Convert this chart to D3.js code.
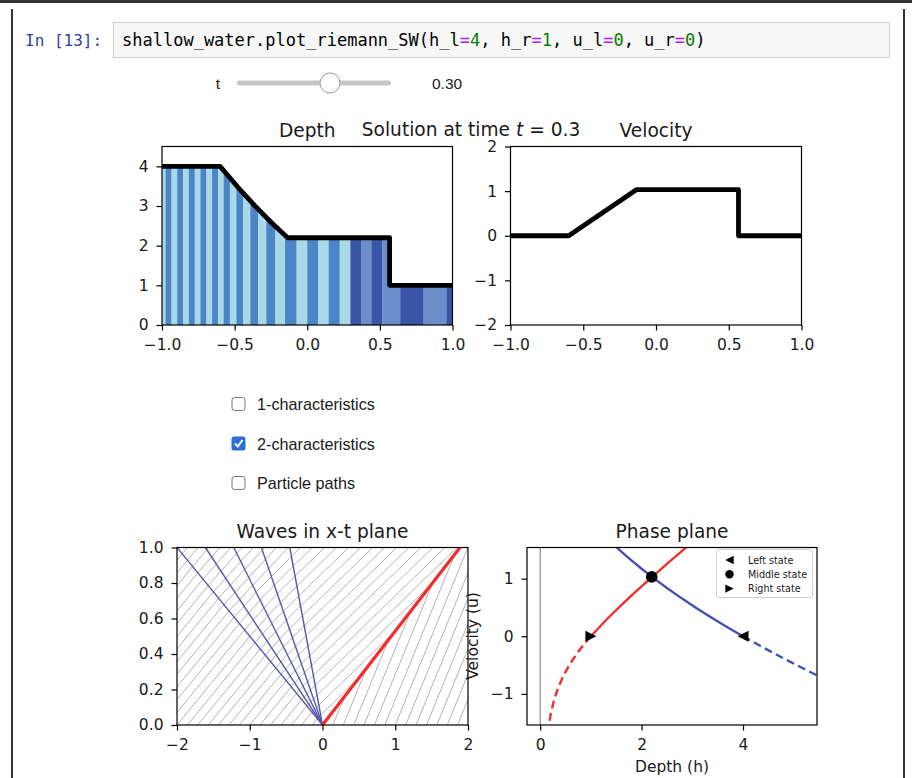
<!DOCTYPE html>
<html><head><meta charset="utf-8">
<script src="https://cdn.jsdelivr.net/npm/d3@7"></script>
<style>body{margin:0;background:#fff}svg{display:block}</style>
</head><body><svg id="c" width="912" height="778"></svg>
<script>
// ---------------- DATA ----------------
const codePrompt = "In [13]:";
const codeParts = [["shallow_water.plot_riemann_SW(h_l","t"],["=","o"],["4","n"],[", h_r","t"],["=","o"],["1","n"],[", u_l","t"],["=","o"],["0","n"],[", u_r","t"],["=","o"],["0","n"],[")","t"]];
const sliderLabel = "t";
const sliderValue = 0.30;
const checkboxLabels = ["1-characteristics", "2-characteristics", "Particle paths"];
const checkboxChecked = [false, true, false];

const solutionTime = 0.3;
const depthX = [-1, -0.6, -0.48, -0.36, -0.24, -0.135, 0.567, 0.567, 1];
const depthH = [4, 4, 3.484, 3.004, 2.56, 2.2, 2.2, 1, 1];
const velX = [-1, -0.6, -0.135, 0.567, 0.567, 1];
const velU = [0, 0, 1.033, 1.033, 0, 0];
const stripeEdges = [-1, -0.975, -0.935, -0.895, -0.855, -0.815, -0.775, -0.735, -0.695, -0.655, -0.615,
  -0.575, -0.533, -0.488, -0.441, -0.392, -0.339, -0.282, -0.220, -0.153, -0.074, 0.0, 0.075, 0.148, 0.223,
  0.297, 0.37, 0.443, 0.516, 0.64, 0.80, 0.96, 1.0];
const stripeGroup = ["La","Lb","La","Lb","La","Lb","La","Lb","La","Lb","La","Lb","La","Lb","La","Lb","La","Lb","La","Lb","La","Lb","La","Lb","La",
  "Ra","Rb","Ra","Rb","Ra","Rb","Ra"];
const depthXTicks = [-1, -0.5, 0, 0.5, 1];
const depthYTicks = [0, 1, 2, 3, 4];
const velYTicks = [-2, -1, 0, 1, 2];

const fanTopX = [-2, -1.61, -1.22, -0.84, -0.45];
const shockTopX = 1.89;
const charLines = [
  [[-0.1429,0],[-0.0714,0.0357],[-0.0252,0.0559],[0.504,0.2667]],
  [[-0.2857,0],[-0.1429,0.0714],[-0.0503,0.1118],[1.008,0.5333]],
  [[-0.4286,0],[-0.2143,0.1071],[-0.0755,0.1677],[1.512,0.8]],
  [[-0.5714,0],[-0.2857,0.1429],[-0.1993,0.1829],[-0.1006,0.2236],[1.848,1]],
  [[-0.7143,0],[-0.3571,0.1786],[-0.2491,0.2286],[-0.1258,0.2795],[1.683,1]],
  [[-0.8571,0],[-0.4286,0.2143],[-0.2989,0.2743],[-0.1509,0.3354],[1.517,1]],
  [[-1.0,0],[-0.5,0.25],[-0.3488,0.32],[-0.1761,0.3913],[1.352,1]],
  [[-1.1429,0],[-0.5714,0.2857],[-0.3986,0.3657],[-0.2012,0.4471],[1.187,1]],
  [[-1.2857,0],[-0.6429,0.3214],[-0.4484,0.4114],[-0.2264,0.503],[1.021,1]],
  [[-1.4286,0],[-0.7143,0.3571],[-0.4982,0.4571],[-0.2515,0.5589],[0.856,1]],
  [[-1.5714,0],[-0.7857,0.3929],[-0.5481,0.5029],[-0.2767,0.6148],[0.69,1]],
  [[-1.7143,0],[-0.8571,0.4286],[-0.5979,0.5486],[-0.3018,0.6707],[0.525,1]],
  [[-1.8571,0],[-0.9286,0.4643],[-0.6477,0.5943],[-0.327,0.7266],[0.359,1]],
  [[-2.0,0],[-1.0,0.5],[-0.6975,0.64],[-0.3521,0.7825],[0.194,1]],
  [[-2.1429,0],[-1.0714,0.5357],[-0.7473,0.6857],[-0.3773,0.8384],[0.028,1]],
  [[-2.2857,0],[-1.1429,0.5714],[-0.7971,0.7314],[-0.4024,0.8943],[-0.137,1]],
  [[-2.4286,0],[-1.2143,0.6071],[-0.8469,0.7771],[-0.4276,0.9501],[-0.302,1]],
  [[-2.5714,0],[-1.2857,0.6429],[-0.47,1]],
  [[-2.7143,0],[-1.3571,0.6786],[-0.633,1]],
  [[-2.8571,0],[-1.4286,0.7143],[-0.795,1]],
  [[-3.0,0],[-1.5,0.75],[-0.953,1]],
  [[-3.1429,0],[-1.5714,0.7857],[-1.109,1]],
  [[-3.2857,0],[-1.6429,0.8214],[-1.263,1]],
  [[-3.4286,0],[-1.7143,0.8571],[-1.414,1]],
  [[-3.5714,0],[-1.7857,0.8929],[-1.564,1]],
  [[-3.7143,0],[-1.8571,0.9286],[-1.711,1]],
  [[-3.8571,0],[-1.9286,0.9643],[-1.857,1]],
  [[-4.0,0],[-2.0,1.0]],
  [[0.1429,0],[0.3034,0.1605]],
  [[0.2857,0],[0.6068,0.321]],
  [[0.4286,0],[0.910,0.4816]],
  [[0.5714,0],[1.2135,0.642]],
  [[0.7143,0],[1.517,0.8026]],
  [[0.8571,0],[1.820,0.963]],
  [[1.0,0],[2.0,1.0]],
  [[1.1429,0],[2.1429,1]],
  [[1.2857,0],[2.2857,1]],
  [[1.4286,0],[2.4286,1]],
  [[1.5714,0],[2.5714,1]],
  [[1.7143,0],[2.7143,1]],
  [[1.8571,0],[2.8571,1]]
];
const wavesXTicks = [-2, -1, 0, 1, 2];
const wavesYTicks = [0, 0.2, 0.4, 0.6, 0.8, 1.0];

const blueSolidH = [1.45, 1.6, 1.8, 2.0, 2.2, 2.5, 2.8, 3.1, 3.4, 3.7, 4.0];
const blueSolidU = [1.592, 1.470, 1.317, 1.172, 1.034, 0.838, 0.653, 0.479, 0.312, 0.153, 0];
const blueDashH = [4.0, 4.4, 4.8, 5.2, 5.6];
const blueDashU = [0, -0.195, -0.383, -0.564, -0.741];
const redSolidH = [1.0, 1.3, 1.6, 1.9, 2.2, 2.5, 2.8, 3.0];
const redSolidU = [0, 0.282, 0.541, 0.786, 1.023, 1.255, 1.483, 1.633];
const redDashH = [1.0, 0.9, 0.75, 0.6, 0.45, 0.35, 0.27, 0.21, 0.16];
const redDashU = [0, -0.103, -0.270, -0.462, -0.698, -0.903, -1.120, -1.341, -1.599];
const stateNames = ["Left state", "Middle state", "Right state"];
const stateH = [4, 2.2, 1];
const stateU = [0, 1.03, 0];
const phaseXTicks = [0, 2, 4];
const phaseYTicks = [-1, 0, 1];

// ---------------- STYLE ----------------
const MPL = "'DejaVu Sans', sans-serif";
const UI = "'Liberation Sans', Arial, sans-serif";
const MONO = "'DejaVu Sans Mono', monospace";
const TICK_FS = 15.5, TITLE_FS = 18.6;
const stripeColor = {La: "#a9d8e7", Lb: "#4a86c5", Ra: "#3b55a6", Rb: "#6a8fcb"};
const codeColor = {t: "#000", o: "#aa22ff", n: "#008000"};

const svg = d3.select("#c");

// frame
svg.append("rect").attr("x", 0).attr("y", 0).attr("width", 912).attr("height", 3).attr("fill", "#333");
svg.append("rect").attr("x", 11).attr("y", 9).attr("width", 2).attr("height", 769).attr("fill", "#333");
svg.append("rect").attr("x", 903).attr("y", 9).attr("width", 2).attr("height", 769).attr("fill", "#333");

// code cell
svg.append("text").attr("x", 25).attr("y", 46).attr("font-family", MONO).attr("font-size", 16)
  .attr("fill", "#303f9f").text(codePrompt);
svg.append("rect").attr("x", 113.5).attr("y", 22.5).attr("width", 776).attr("height", 35)
  .attr("fill", "#f7f7f7").attr("stroke", "#cfcfcf");
const codeT = svg.append("text").attr("x", 122).attr("y", 46).attr("font-family", MONO).attr("font-size", 17)
  .style("white-space", "pre");
codeParts.forEach(p => codeT.append("tspan").attr("fill", codeColor[p[1]]).text(p[0]));

// slider
svg.append("text").attr("x", 218).attr("y", 89).attr("text-anchor", "middle").attr("font-family", UI)
  .attr("font-size", 15.5).attr("fill", "#222").text(sliderLabel);
svg.append("rect").attr("x", 237).attr("y", 80.5).attr("width", 154).attr("height", 5).attr("rx", 2.5)
  .attr("fill", "#c6c6c6");
svg.append("circle").attr("cx", 330).attr("cy", 83).attr("r", 10).attr("fill", "#fff")
  .attr("stroke", "#9a9a9a").attr("stroke-width", 1);
svg.append("text").attr("x", 432).attr("y", 89).attr("font-family", UI).attr("font-size", 15.5)
  .attr("fill", "#222").text(d3.format(".2f")(sliderValue));

// checkboxes
checkboxLabels.forEach((lab, i) => {
  const cy = 404 + i * 39.5;
  if (checkboxChecked[i]) {
    svg.append("rect").attr("x", 231.5).attr("y", cy - 7).attr("width", 14).attr("height", 14).attr("rx", 2.5)
      .attr("fill", "#2c6fd4");
    svg.append("path").attr("d", `M${235},${cy} L${237.8},${cy + 3} L${242.5},${cy - 3.5}`)
      .attr("fill", "none").attr("stroke", "#fff").attr("stroke-width", 2);
  } else {
    svg.append("rect").attr("x", 232).attr("y", cy - 6.5).attr("width", 13).attr("height", 13).attr("rx", 2.5)
      .attr("fill", "#fff").attr("stroke", "#767676").attr("stroke-width", 1);
  }
  svg.append("text").attr("x", 257).attr("y", cy + 6).attr("font-family", UI).attr("font-size", 16.2)
    .attr("fill", "#1a1a1a").text(lab);
});

// ---------------- AXES HELPER ----------------
function makeAxes(id, box, xd, yd) {
  const x = d3.scaleLinear().domain(xd).range([box.l, box.r]);
  const y = d3.scaleLinear().domain(yd).range([box.b, box.t]);
  svg.append("clipPath").attr("id", id).append("rect")
    .attr("x", box.l).attr("y", box.t).attr("width", box.r - box.l).attr("height", box.b - box.t);
  const plot = svg.append("g").attr("clip-path", `url(#${id})`);
  return {x, y, plot, box};
}
function finishAxes(A, xt, yt, xf, yf, title) {
  const gx = svg.append("g").attr("transform", `translate(0,${A.box.b})`)
    .call(d3.axisBottom(A.x).tickValues(xt).tickFormat(xf).tickSize(5.5).tickPadding(8.5));
  const gy = svg.append("g").attr("transform", `translate(${A.box.l},0)`)
    .call(d3.axisLeft(A.y).tickValues(yt).tickFormat(yf).tickSize(5.5).tickPadding(8));
  [gx, gy].forEach(g => {
    g.select(".domain").remove();
    g.selectAll("line").attr("stroke", "#000").attr("stroke-width", 1.2);
    g.selectAll("text").attr("font-family", MPL).attr("font-size", TICK_FS).attr("fill", "#1a1a1a");
  });
  svg.append("rect").attr("x", A.box.l).attr("y", A.box.t).attr("width", A.box.r - A.box.l)
    .attr("height", A.box.b - A.box.t).attr("fill", "none").attr("stroke", "#000").attr("stroke-width", 1.2);
  if (title) svg.append("text").attr("x", (A.box.l + A.box.r) / 2).attr("y", A.box.t - 10)
    .attr("text-anchor", "middle").attr("font-family", MPL).attr("font-size", TITLE_FS).attr("fill", "#1a1a1a").text(title);
}

// ---------------- DEPTH ----------------
const D = makeAxes("clipD", {l: 162, r: 452.5, t: 146.5, b: 325}, [-1, 1], [0, 4.5]);
const depthPts = depthX.map((v, i) => [v, depthH[i]]);
const areaPath = d3.area().x(d => D.x(d[0])).y0(D.y(0)).y1(d => D.y(d[1]))(depthPts);
svg.append("clipPath").attr("id", "clipArea").append("path").attr("d", areaPath);
const stripesG = D.plot.append("g").attr("clip-path", "url(#clipArea)");
stripeGroup.forEach((g, i) => {
  stripesG.append("rect").attr("x", D.x(stripeEdges[i])).attr("y", D.y(4.5))
    .attr("width", D.x(stripeEdges[i + 1]) - D.x(stripeEdges[i]) + 0.3).attr("height", D.y(0) - D.y(4.5))
    .attr("fill", stripeColor[g]);
});
D.plot.append("path").attr("d", d3.line().x(d => D.x(d[0])).y(d => D.y(d[1]))(depthPts))
  .attr("fill", "none").attr("stroke", "#000").attr("stroke-width", 4.8).attr("stroke-linejoin", "round");
finishAxes(D, depthXTicks, depthYTicks, d3.format(".1f"), d3.format("d"), "Depth");

// ---------------- VELOCITY ----------------
const V = makeAxes("clipV", {l: 510.5, r: 801.5, t: 146.5, b: 325}, [-1, 1], [-2, 2]);
V.plot.append("path").attr("d", d3.line().x(d => V.x(d[0])).y(d => V.y(d[1]))(velX.map((v, i) => [v, velU[i]])))
  .attr("fill", "none").attr("stroke", "#000").attr("stroke-width", 4.8).attr("stroke-linejoin", "round");
finishAxes(V, depthXTicks, velYTicks, d3.format(".1f"), d3.format("d"), "Velocity");

// suptitle
const sup = svg.append("text").attr("x", 471).attr("y", 135.5).attr("text-anchor", "middle")
  .attr("font-family", MPL).attr("font-size", TITLE_FS).attr("fill", "#1a1a1a");
sup.append("tspan").text("Solution at time ");
sup.append("tspan").attr("font-style", "italic").text("t");
sup.append("tspan").text(" = " + String(solutionTime));

// ---------------- WAVES x-t ----------------
const W = makeAxes("clipW", {l: 177, r: 468, t: 547.5, b: 725}, [-2, 2], [0, 1]);
const lineW = d3.line().x(d => W.x(d[0])).y(d => W.y(d[1]));
charLines.forEach(pts => {
  W.plot.append("path").attr("d", lineW(pts)).attr("fill", "none").attr("stroke", "#b4b4b4").attr("stroke-width", 1);
});
fanTopX.forEach(xt => {
  W.plot.append("path").attr("d", lineW([[0, 0], [xt, 1]])).attr("fill", "none")
    .attr("stroke", "#5858ad").attr("stroke-width", 1.4);
});
W.plot.append("path").attr("d", lineW([[0, 0], [shockTopX, 1]])).attr("fill", "none")
  .attr("stroke", "#f52a2a").attr("stroke-width", 3.2);
finishAxes(W, wavesXTicks, wavesYTicks, d3.format("d"), d3.format(".1f"), "Waves in x-t plane");

// ---------------- PHASE PLANE ----------------
const P = makeAxes("clipP", {l: 527, r: 817, t: 547.5, b: 725}, [-0.26, 5.46], [-1.54, 1.54]);
const lineP = d3.line().x(d => P.x(d[0])).y(d => P.y(d[1]));
P.plot.append("line").attr("x1", P.x(0)).attr("x2", P.x(0)).attr("y1", P.box.t).attr("y2", P.box.b)
  .attr("stroke", "#7f7f7f").attr("stroke-width", 1.1);
const curves = [
  [blueSolidH, blueSolidU, "#4352b3", null],
  [blueDashH, blueDashU, "#4352b3", "8,4.5"],
  [redSolidH, redSolidU, "#f0302b", null],
  [redDashH, redDashU, "#f0302b", "8,4.5"]
];
curves.forEach(c => {
  const p = P.plot.append("path").attr("d", lineP(c[0].map((h, i) => [h, c[1][i]])))
    .attr("fill", "none").attr("stroke", c[2]).attr("stroke-width", 2.4);
  if (c[3]) p.attr("stroke-dasharray", c[3]);
});
function marker(g, kind, cx, cy, s) {
  if (kind === 1) return g.append("circle").attr("cx", cx).attr("cy", cy).attr("r", s).attr("fill", "#000");
  const dir = kind === 0 ? -1 : 1;
  return g.append("path").attr("d",
    `M${cx + dir * s},${cy} L${cx - dir * s},${cy - s} L${cx - dir * s},${cy + s} Z`).attr("fill", "#000");
}
stateH.forEach((h, i) => marker(svg, i, P.x(h), P.y(stateU[i]), i === 1 ? 5.8 : 5.5));
finishAxes(P, phaseXTicks, phaseYTicks, d3.format("d"), d3.format("d"), "Phase plane");
svg.append("text").attr("transform", `translate(478,636) rotate(-90)`).attr("text-anchor", "middle")
  .attr("font-family", MPL).attr("font-size", TICK_FS).attr("fill", "#1a1a1a").text("Velocity (u)");
svg.append("text").attr("x", 672).attr("y", 772).attr("text-anchor", "middle")
  .attr("font-family", MPL).attr("font-size", TICK_FS).attr("fill", "#1a1a1a").text("Depth (h)");

// legend
svg.append("rect").attr("x", 716.5).attr("y", 549.5).attr("width", 96).attr("height", 48).attr("rx", 2.5)
  .attr("fill", "#fff").attr("fill-opacity", 0.85).attr("stroke", "#d0d0d0");
stateNames.forEach((n, i) => {
  const yy = 560 + i * 14.3;
  marker(svg, i, 729.5, yy, 4.2);
  svg.append("text").attr("x", 748).attr("y", yy + 3.5).attr("font-family", MPL).attr("font-size", 9.6)
    .attr("fill", "#1a1a1a").text(n);
});
</script></body></html>
